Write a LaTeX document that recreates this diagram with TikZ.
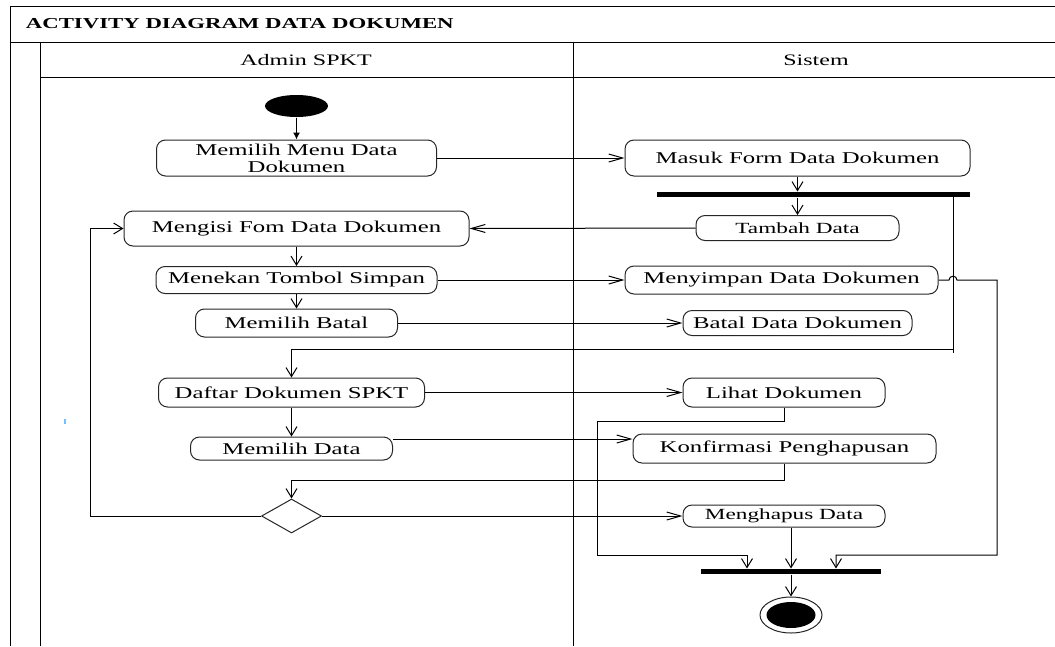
\documentclass[tikz,border=0pt]{standalone}
\usepackage{fontspec}
\setmainfont{Liberation Serif}[FakeStretch=1.5]
\usetikzlibrary{arrows.meta,shapes.geometric}

\begin{document}
\begin{tikzpicture}[x=1pt,y=-1pt,
  line width=1pt,
  act/.style={draw=black!85, rounded corners=9pt, inner sep=0pt, align=center,
    font=\fontsize{16.5}{17}\selectfont},
  actsmall/.style={act, font=\fontsize{15.5}{16}\selectfont},
  bar/.style={fill=black, inner sep=0pt, minimum height=5pt},
  startnode/.style={ellipse, fill=black, inner sep=0pt, minimum width=63pt, minimum height=22pt},
  varr/.style={-{Straight Barb[length=9pt,width=11pt]}},
  harr/.style={-{Straight Barb[length=14pt,width=8pt]}},
  firstarr/.style={-{Latex[length=7pt,width=7pt]}},
  lanefont/.style={font=\fontsize{16}{17}\selectfont}
]
\useasboundingbox (0,0) rectangle (1055,646);

% frame, title row and swimlanes
\draw (10,646) -- (10,6) -- (1055,6);
\draw (10,42) -- (1055,42);
\draw (40,646) -- (40,42);
\draw (40,77) -- (1055,77);
\draw (573,42) -- (573,646);
\node[anchor=west, font=\bfseries\fontsize{15.2}{16}\selectfont] (title) at (22,24) {ACTIVITY DIAGRAM DATA DOKUMEN};
\node[lanefont] (laneA) at (306,60) {Admin SPKT};
\node[lanefont] (laneB) at (816,60) {Sistem};

% Admin SPKT activities
\node[startnode] (start) at (296.5,106) {};
\node[act, minimum width=280pt, minimum height=36pt] (menu) at (296.5,158) {Memilih Menu Data\\Dokumen};
\node[act, minimum width=345pt, minimum height=35pt] (isi) at (296.5,228.5) {Mengisi Fom Data Dokumen};
\node[act, minimum width=281pt, minimum height=27pt] (tekan) at (296.5,280) {Menekan Tombol Simpan};
\node[act, minimum width=202pt, minimum height=28pt] (batal) at (296.5,323) {Memilih Batal};
\node[act, minimum width=266pt, minimum height=29pt] (daftar) at (291.5,392.5) {Daftar Dokumen SPKT};
\node[act, minimum width=202pt, minimum height=23pt] (pilih) at (291.5,448.5) {Memilih Data};
\node[diamond, draw=black!85, inner sep=0pt, minimum width=60pt, minimum height=34pt] (dec) at (291.5,516) {};

% Sistem activities
\node[act, minimum width=345pt, minimum height=36pt] (masuk) at (797.5,158) {Masuk Form Data Dokumen};
\node[bar, minimum width=313pt] (fork) at (813.5,194.5) {};
\node[actsmall, minimum width=203pt, minimum height=25pt] (tambah) at (797.5,228) {Tambah Data};
\node[act, minimum width=313pt, minimum height=28pt] (simpan) at (781.5,280) {Menyimpan Data Dokumen};
\node[act, minimum width=229pt, minimum height=25pt] (bataldata) at (797.5,323) {Batal Data Dokumen};
\node[act, minimum width=202pt, minimum height=29pt] (lihat) at (784,392.5) {Lihat Dokumen};
\node[act, minimum width=303pt, minimum height=29pt] (konf) at (784.5,448.5) {Konfirmasi Penghapusan};
\node[actsmall, minimum width=202pt, minimum height=22pt] (hapus) at (784,516) {Menghapus Data};
\node[bar, minimum width=180pt] (join) at (791,571.5) {};
\node[ellipse, draw=black!85, inner sep=0pt, minimum width=62pt, minimum height=36pt] (end) at (791,615) {};
\node[ellipse, fill=black, inner sep=0pt, minimum width=49pt, minimum height=26pt] (endin) at (end.center) {};

% bend points
\coordinate (fk) at (953,349);
\coordinate (fkend) at (953,353);
\coordinate (l1) at (597,421);
\coordinate (l2) at (597,555);
\coordinate (loop) at (90,516);
\coordinate (j1) at (949,280);
\coordinate (j2) at (957,280);
\coordinate (r1) at (997,280);
\coordinate (r2) at (997,555);

% flows
\draw[firstarr] (start.south) -- (menu.north);
\draw[harr] (menu.east) -- (masuk.west);
\draw[varr] (masuk.south) -- (masuk.south |- fork.north);
\draw[varr] (tambah.north |- fork.south) -- (tambah.north);
\draw (fork.center -| fk) -- (fkend);
\draw[varr] (fk) -- (fk -| daftar.north) -- (daftar.north);
\draw[harr] (tambah.west) -- (isi.east);
\draw[varr] (isi.south) -- (tekan.north);
\draw[varr] (tekan.south) -- (batal.north);
\draw[harr] (tekan.east) -- (simpan.west);
\draw[harr] (batal.east) -- (bataldata.west);
\draw[harr] (daftar.east) -- (lihat.west);
\draw[varr] (daftar.south) -- (pilih.north);
\draw[harr] ([yshift=9.5pt]pilih.east) -- ([yshift=9.5pt]konf.west);
\draw[varr] (konf.south) -- ++(0,16.5) -| (dec.north);
\draw[varr] (dec.west) -- (loop) |- (isi.west);
\draw[harr] (dec.east) -- (hapus.west);
\draw[varr] (lihat.south) |- (l1) -- (l2) -| ([xshift=-44pt]join.north);
\draw[varr] (hapus.south -| join.north) -- (join.north);
\draw[varr] (simpan.east) -- (j1) .. controls (949,275) and (957,275) .. (j2) -- (r1) -- (r2) -| ([xshift=45pt]join.north);
\draw[varr] (join.south) -- (end.north);

% stray mark
\fill[blue!45!cyan!55!white] (64,419) rectangle (66,424);
\end{tikzpicture}
\end{document}
